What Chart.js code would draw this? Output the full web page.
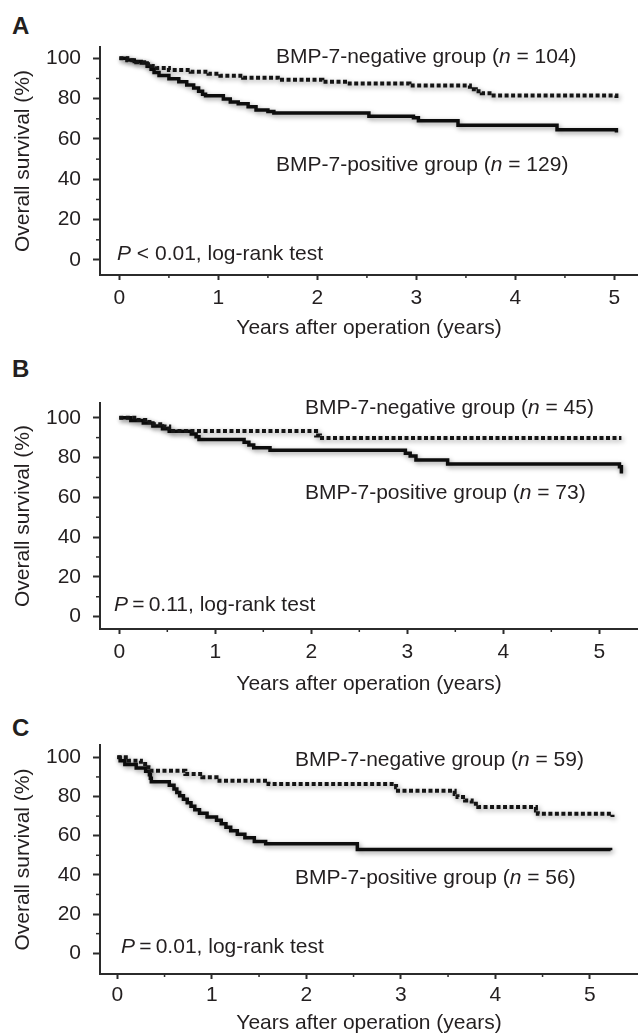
<!DOCTYPE html>
<html>
<head>
<meta charset="utf-8">
<script src="https://cdn.jsdelivr.net/npm/chart.js@4.4.1/dist/chart.umd.min.js"></script>
<style>
  html, body { margin: 0; padding: 0; background: #fff; }
  body { width: 638px; height: 1034px; position: relative; overflow: hidden;
         font-family: 'Liberation Sans', Arial, sans-serif; color: #231f20; }
  .panel { position: absolute; left: 0; }
  .letter { position: absolute; left: 12px; font-weight: bold; font-size: 24px; line-height: 1; }
  .note { position: absolute; font-size: 21px; line-height: 1; white-space: nowrap; }
</style>
</head>
<body>

<div class="letter" style="top:14px">A</div>
<div class="panel" style="top:0"><canvas id="chartA" width="638" height="345"></canvas></div>
<div class="note" style="left:276px;top:45px">BMP-7-negative group (<i>n</i> = 104)</div>
<div class="note" style="left:276px;top:153px">BMP-7-positive group (<i>n</i> = 129)</div>
<div class="note" style="left:117px;top:242px"><i>P</i> &lt; 0.01, log-rank test</div>

<div class="letter" style="top:357px">B</div>
<div class="panel" style="top:355px"><canvas id="chartB" width="638" height="344"></canvas></div>
<div class="note" style="left:305px;top:396px">BMP-7-negative group (<i>n</i> = 45)</div>
<div class="note" style="left:305px;top:481px">BMP-7-positive group (<i>n</i> = 73)</div>
<div class="note" style="left:114px;top:593px"><i>P</i>&#8201;=&#8201;0.11, log-rank test</div>

<div class="letter" style="top:716px">C</div>
<div class="panel" style="top:700px"><canvas id="chartC" width="638" height="334"></canvas></div>
<div class="note" style="left:295px;top:748px">BMP-7-negative group (<i>n</i> = 59)</div>
<div class="note" style="left:295px;top:866px">BMP-7-positive group (<i>n</i> = 56)</div>
<div class="note" style="left:121px;top:935px"><i>P</i>&#8201;=&#8201;0.01, log-rank test</div>

<script>
// ---- Axis ticks & titles ----
const X_TICKS = [0, 1, 2, 3, 4, 5];
const X_MINOR = [0.5, 1.5, 2.5, 3.5, 4.5];
const Y_TICKS = [0, 20, 40, 60, 80, 100];
const Y_MINOR = [10, 30, 50, 70, 90];
const X_TITLE = 'Years after operation (years)';
const Y_TITLE = 'Overall survival (%)';

// ---- Kaplan-Meier steps (years, survival %) ----
// A: all patients
const A_NEG_T = [0, 0.08, 0.17, 0.25, 0.33, 0.38, 0.5, 0.72, 0.9, 1.02, 1.25, 1.6, 2.05, 2.3, 2.93, 3.54, 3.6, 3.66, 3.78, 5.02];
const A_NEG_S = [100, 99.0, 98.1, 97.1, 96.2, 95.2, 94.2, 93.3, 92.3, 91.3, 90.4, 89.4, 88.4, 87.5, 86.5, 84.6, 83.7, 82.7, 81.5, 80.3];
const A_POS_T = [0, 0.08, 0.15, 0.22, 0.28, 0.32, 0.35, 0.4, 0.5, 0.6, 0.68, 0.75, 0.8, 0.84, 0.87, 1.05, 1.12, 1.2, 1.3, 1.38, 1.5, 1.56, 2.52, 2.97, 3.02, 3.42, 4.42, 5.02];
const A_POS_S = [100, 99.2, 98.4, 97.7, 96.1, 94.6, 93.0, 91.5, 89.9, 88.4, 86.8, 85.3, 83.7, 82.2, 81.4, 79.8, 78.3, 77.5, 76.0, 74.4, 73.6, 72.9, 71.3, 70.5, 69.0, 66.8, 64.6, 63.2];
// B
const B_NEG_T = [0, 0.18, 0.27, 0.36, 0.45, 0.52, 2.05, 2.09, 5.23];
const B_NEG_S = [100, 98.9, 97.8, 96.7, 95.6, 93.3, 91.1, 89.8, 89.8];
const B_POS_T = [0, 0.12, 0.25, 0.35, 0.45, 0.52, 0.75, 0.8, 0.83, 1.3, 1.35, 1.4, 1.57, 2.98, 3.03, 3.09, 3.42, 5.21, 5.23];
const B_POS_S = [100, 98.6, 97.3, 95.9, 94.5, 93.2, 91.8, 90.4, 89.0, 87.7, 86.3, 84.9, 83.6, 82.2, 80.8, 78.8, 76.7, 75.3, 72.0];
// C
const C_NEG_T = [0, 0.12, 0.25, 0.33, 0.35, 0.72, 0.9, 1.05, 1.6, 2.95, 2.97, 3.57, 3.6, 3.68, 3.75, 3.82, 4.43, 4.45, 5.24];
const C_NEG_S = [100, 98.3, 96.6, 94.9, 93.2, 91.5, 89.8, 88.1, 86.4, 84.7, 83.0, 81.3, 79.7, 78.0, 76.3, 74.6, 72.9, 71.2, 69.5];
const C_POS_T = [0, 0.03, 0.08, 0.2, 0.3, 0.34, 0.35, 0.36, 0.55, 0.6, 0.63, 0.66, 0.7, 0.74, 0.78, 0.82, 0.87, 0.95, 1.05, 1.1, 1.15, 1.2, 1.27, 1.35, 1.45, 1.57, 2.54, 5.22];
const C_POS_S = [100, 98.2, 96.4, 94.6, 92.9, 91.1, 89.3, 87.5, 85.7, 83.9, 82.1, 80.4, 78.6, 76.8, 75.0, 73.2, 71.4, 69.6, 67.9, 66.1, 64.3, 62.5, 60.7, 58.9, 57.1, 55.9, 52.9, 52.6];

const FONT = "'Liberation Sans', Arial, sans-serif";
const TXT = '#231f20';
const AXIS = '#2b2b2b';

const toPts = (ts, ss) => ts.map((t, i) => ({ x: t, y: ss[i] }));

// short minor tick marks drawn on the library scales
const minorTicks = {
    id: 'minorTicks',
    afterDraw(chart) {
        const { ctx, scales: { x, y } } = chart;
        ctx.save();
        ctx.strokeStyle = AXIS;
        ctx.lineWidth = 1.5;
        X_MINOR.forEach(v => {
            const px = x.getPixelForValue(v);
            ctx.beginPath(); ctx.moveTo(px, x.top); ctx.lineTo(px, x.top + 3); ctx.stroke();
        });
        Y_MINOR.forEach(v => {
            const py = y.getPixelForValue(v);
            ctx.beginPath(); ctx.moveTo(y.right, py); ctx.lineTo(y.right - 4, py); ctx.stroke();
        });
        ctx.restore();
    }
};

// soft grey shadow like the scanned figure
const lineShadow = {
    id: 'lineShadow',
    beforeDatasetsDraw(chart) {
        const c = chart.ctx;
        c.save();
        c.shadowColor = 'rgba(0,0,0,0.4)';
        c.shadowBlur = 5;
        c.shadowOffsetX = 1.5;
        c.shadowOffsetY = 2;
    },
    afterDatasetsDraw(chart) { chart.ctx.restore(); }
};

function buildChart(id, neg, pos, g) {
    return new Chart(document.getElementById(id), {
        type: 'line',
        data: {
            datasets: [
                { label: 'BMP-7-negative', data: neg, stepped: true, borderColor: '#141414',
                  borderWidth: 4, borderDash: [4, 2.5], borderCapStyle: 'butt', pointRadius: 0, fill: false },
                { label: 'BMP-7-positive', data: pos, stepped: true, borderColor: '#0d0d0d',
                  borderWidth: 3.5, pointRadius: 0, fill: false }
            ]
        },
        options: {
            responsive: false,
            animation: false,
            events: [],
            layout: { padding: { top: g.padTop, left: 0, right: 0, bottom: 0 } },
            plugins: { legend: { display: false }, tooltip: { enabled: false } },
            scales: {
                x: {
                    type: 'linear', min: g.xMin, max: g.xMax,
                    afterBuildTicks: s => { s.ticks = X_TICKS.map(v => ({ value: v })); },
                    afterFit: s => { s.height = g.xHeight; },
                    grid: { drawOnChartArea: false, tickLength: 5, tickWidth: 2, tickColor: AXIS },
                    border: { color: AXIS, width: 2 },
                    ticks: { padding: g.xTickPad, color: TXT, maxRotation: 0, autoSkip: false,
                             font: { family: FONT, size: 21, lineHeight: 1 } },
                    title: { display: true, text: X_TITLE, color: TXT,
                             font: { family: FONT, size: 21, lineHeight: 1 },
                             padding: { top: 0, bottom: g.xTitlePad } }
                },
                y: {
                    min: g.yMin, max: g.yMax,
                    afterBuildTicks: s => { s.ticks = Y_TICKS.map(v => ({ value: v })); },
                    afterFit: s => { s.width = 100; },
                    grid: { drawOnChartArea: false, tickLength: 7, tickWidth: 2, tickColor: AXIS },
                    border: { color: AXIS, width: 2 },
                    ticks: { padding: 12, color: TXT, font: { family: FONT, size: 21, lineHeight: 1 } },
                    title: { display: true, text: Y_TITLE, color: TXT,
                             font: { family: FONT, size: 21, lineHeight: 1 },
                             padding: { top: 12.5, bottom: 0 } }
                }
            }
        },
        plugins: [minorTicks, lineShadow]
    });
}

buildChart('chartA', toPts(A_NEG_T, A_NEG_S), toPts(A_POS_T, A_POS_S),
    { padTop: 47, xHeight: 70, xTickPad: 7.5, xTitlePad: 6.5, xMin: -0.196, xMax: 5.238, yMin: -7.44, yMax: 105.6 });
buildChart('chartB', toPts(B_NEG_T, B_NEG_S), toPts(B_POS_T, B_POS_S),
    { padTop: 48, xHeight: 70, xTickPad: 7.5, xTitlePad: 4.5, xMin: -0.201, xMax: 5.403, yMin: -6.2, yMax: 107.4 });
buildChart('chartC', toPts(C_NEG_T, C_NEG_S), toPts(C_POS_T, C_POS_S),
    { padTop: 45, xHeight: 60, xTickPad: 5.5, xTitlePad: 0.5, xMin: -0.183, xMax: 5.51, yMin: -10.6, yMax: 106.3 });
</script>
</body>
</html>
